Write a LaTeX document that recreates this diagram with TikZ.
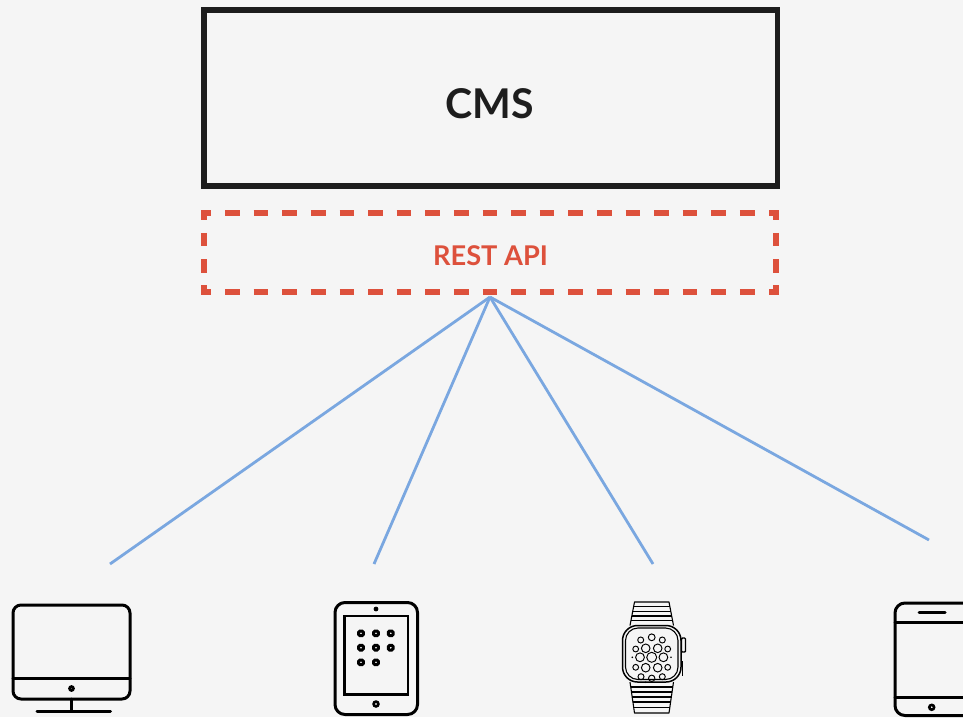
\documentclass[tikz,border=0pt]{standalone}
\usepackage{fontspec}
\setmainfont{Lato}
\definecolor{pagebg}{HTML}{F5F5F5}
\definecolor{cmsink}{HTML}{1D1D1D}
\definecolor{restred}{HTML}{DD513C}
\definecolor{linkblue}{HTML}{7AA7E0}
\tikzset{
  cmsbox/.style={draw=cmsink,line width=5.5pt,inner sep=0pt,minimum width=573.5pt,minimum height=176pt},
  cmstext/.style={inner sep=0pt,text=cmsink,font=\fontsize{41}{46}\selectfont\bfseries},
  restbox/.style={inner sep=0pt,minimum width=572pt,minimum height=79pt},
  resttext/.style={inner sep=0pt,text=restred,font=\fontsize{27.2}{32}\selectfont\bfseries},
  restedge/.style={draw=restred,line width=5.5pt},
  hdash/.style={restedge,dash pattern=on 14.6pt off 14pt},
  vdash/.style={restedge,dash pattern=on 13.6pt off 12.7pt},
  link/.style={draw=linkblue,line width=2.8pt},
  icon/.style={draw=black,line width=3pt,line cap=round,line join=round},
  watch/.style={draw=black,line width=1.1pt,line join=round},
  dial/.style={draw=black,line width=0.95pt,fill=none},
}
\begin{document}
\begin{tikzpicture}[x=1pt,y=-1pt]
\useasboundingbox (0,0) rectangle (963,717);
\clip (0,0) rectangle (963,717);
\fill[pagebg] (0,0) rectangle (963,717);

% CMS and REST API
\node[cmsbox] (cms) at (490.75,98) {};
\node[cmstext] (cmslabel) at (490,103.5) {CMS};
\node[restbox] (rest) at (490,252.5) {};
\node[resttext] (restlabel) at (490.5,256) {REST API};

% dashes of the REST API frame
\draw[hdash] ([xshift=21.3pt]rest.north west) -- ([xshift=-21pt]rest.north east);
\draw[hdash] ([xshift=21.3pt]rest.south west) -- ([xshift=-21pt]rest.south east);
\draw[vdash] ([yshift=-20pt]rest.north west) -- ([yshift=18pt]rest.south west);
\draw[vdash] ([yshift=-20pt]rest.north east) -- ([yshift=18pt]rest.south east);
\draw[restedge] ([yshift=-7pt]rest.north west) -- (rest.north west) -- ([xshift=7.5pt]rest.north west);
\draw[restedge] ([yshift=7pt]rest.south west) -- (rest.south west) -- ([xshift=7.5pt]rest.south west);
\draw[restedge] ([yshift=-7pt]rest.north east) -- (rest.north east) -- ([xshift=-7.5pt]rest.north east);
\draw[restedge] ([yshift=7pt]rest.south east) -- (rest.south east) -- ([xshift=-7.5pt]rest.south east);

% connectors
\coordinate (hub) at (490,297);
\coordinate (toDesktop) at (110,564);
\coordinate (toTablet) at (374,564);
\coordinate (toWatch) at (653,564);
\coordinate (toPhone) at (929,540);
\draw[link] (hub) -- (toDesktop);
\draw[link] (hub) -- (toTablet);
\draw[link] (hub) -- (toWatch);
\draw[link] (hub) -- (toPhone);

% desktop
\draw[icon,rounded corners=8pt] (13,605) rectangle (130,699);
\draw[icon] (13,678) -- (130,678);
\draw[icon] (71.5,699) -- (71.5,711);
\draw[icon] (37,711) -- (110.5,711);
\draw[draw=black,line width=2.6pt] (71.5,688.5) circle (2);

% tablet
\draw[icon,rounded corners=10pt] (335,602.5) rectangle (417.5,714.5);
\draw[icon,line width=2.8pt,line join=miter] (344.7,616) rectangle (408,694.7);
\fill[black] (376,609) circle (2.4);
\draw[draw=black,line width=2.6pt] (376,704) circle (2.4);
\foreach \px/\py in {361/633.3,376/633.3,390.7/633.3,361/647.7,376/647.7,390.7/647.7,361/662.3,376/662.3}{
  \draw[draw=black,line width=3pt,rounded corners=1.2pt] (\px-2.3,\py-2.3) rectangle (\px+2.3,\py+2.3);
}

% watch
\draw[watch,line width=1.5pt,rounded corners=15pt] (622.5,625.5) rectangle (681,682);
\draw[watch,rounded corners=12.5pt] (625.5,628) rectangle (678,679.5);
\draw[watch] (630,625.5) -- (634.5,602) -- (669,602) -- (673.5,625.5);
\draw[watch] (630,682) -- (634.5,713) -- (669,713) -- (673.5,682);
\foreach \y/\h in {606.5/0.9,611.5/1.8,616/2.7,620.5/3.5}{
  \draw[watch] (634.5-\h,\y) -- (669+\h,\y);
}
\foreach \y/\h in {687/3.8,692/3,697/2.3,702/1.6,707.5/0.8}{
  \draw[watch] (634.5-\h,\y) -- (669+\h,\y);
}
\draw[watch,line width=1.4pt,rounded corners=1pt] (681.5,638) rectangle (685.5,652);
\draw[watch,line width=1.4pt] (682.5,661) -- (682.5,676);
\foreach \cx/\cy/\r in {651.7/657.3/5, 640/657.3/4.4, 663.4/657.3/4.4,
  645.7/648.3/4.3, 657.7/648.3/4.3, 645.7/667.7/4.3, 657.7/667.7/4.3,
  651.7/637.3/3.4, 640.7/640/3, 662.3/640/3,
  635.7/649/2.9, 667.7/649/2.9, 635.7/667.3/2.9, 667.7/667.3/2.9,
  641/676.7/3, 662.3/676.7/3, 651.7/678.3/3.2}{
  \draw[dial] (\cx,\cy) circle (\r);
}
\fill[black] (632.3,657.3) circle (0.9) (671,657.3) circle (0.9) (645.7,682.3) circle (0.9);

% phone
\draw[icon,rounded corners=10pt] (895,603) rectangle (985,715.5);
\draw[icon] (895,622.7) -- (985,622.7);
\draw[icon] (895,697.3) -- (985,697.3);
\draw[icon] (919,612.7) -- (945,612.7);
\draw[draw=black,line width=2.6pt] (931.7,707.3) circle (2.4);
\end{tikzpicture}
\end{document}
